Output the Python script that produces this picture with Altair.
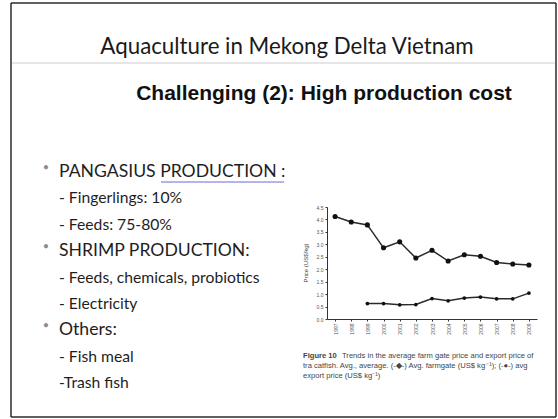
import altair as alt
import pandas as pd

# ---------------- data ----------------
years = [str(y) for y in range(1997, 2010)]
export_price = [4.12, 3.90, 3.78, 2.86, 3.10, 2.45, 2.76, 2.33, 2.58, 2.52, 2.27, 2.21, 2.17]
farmgate_price = [None, None, 0.62, 0.62, 0.57, 0.58, 0.82, 0.73, 0.84, 0.88, 0.81, 0.81, 1.04]
y_ticks = [0, 0.5, 1, 1.5, 2, 2.5, 3, 3.5, 4, 4.5]
series_names = ["Avg. export price", "Avg. farmgate price"]

title_text = "Aquaculture in Mekong Delta Vietnam"
subtitle_text = "Challenging (2): High production cost"
bullet_items = [
    ("PANGASIUS PRODUCTION :", 0),
    ("- Fingerlings: 10%", 1),
    ("- Feeds: 75-80%", 1),
    ("SHRIMP PRODUCTION:", 0),
    ("- Feeds, chemicals, probiotics", 1),
    ("- Electricity", 1),
    ("Others:", 0),
    ("- Fish meal", 1),
    ("-Trash fish", 1),
]
y_axis_title = "Price (US$/kg)"
caption_bold = "Figure 10"
caption_lines = [
    "Trends in the average farm gate price and export price of",
    "tra catfish. Avg., average. (-\u25c6-) Avg. farmgate (US$ kg\u207b\u00b9); (-\u25cf-) avg",
    "export price (US$ kg\u207b\u00b9)",
]

# ---------------- layout ----------------
TOTAL_W, TOTAL_H = 558, 419
OX, OY = 327, 207          # plot origin on the page
W, H = 210, 112            # plot area

rows = []
for name, vals in zip(series_names, [export_price, farmgate_price]):
    for yr, v in zip(years, vals):
        if v is not None:
            rows.append({"year": yr, "price": v, "series": name})
df = pd.DataFrame(rows)

one = alt.Data(values=[{"a": 1}])


def txt(text, x, y, **kw):
    return alt.Chart(one).mark_text(text=text, **kw).encode(
        x=alt.value(x - OX), y=alt.value(y - OY)
    )


def rule(x1, x2, y1, y2, **kw):
    return alt.Chart(one).mark_rule(**kw).encode(
        x=alt.value(x1 - OX), x2=alt.value(x2 - OX),
        y=alt.value(y1 - OY), y2=alt.value(y2 - OY),
    )


layers = []

# slide frame and faint title divider
frame_kw = dict(color="#2b2b2b", strokeWidth=1.5)
layers += [
    rule(11, 556, 3, 3, **frame_kw),
    rule(11, 556, 417, 417, **frame_kw),
    rule(11, 11, 3, 417, **frame_kw),
    rule(556, 556, 3, 417, **frame_kw),
    rule(12, 555, 63, 63, color="#e6e6e6", strokeWidth=2),
]

# titles
layers.append(txt(title_text, 287, 47, font="Lato", fontSize=22.3, color="#1a1a1a",
                  align="center", baseline="middle"))
layers.append(txt(subtitle_text, 324, 94, font="Liberation Sans", fontSize=21,
                  fontWeight="bold", color="#111111", align="center", baseline="middle"))

# bullet list
y0, step = 172, 26.4
for i, (t, lvl) in enumerate(bullet_items):
    yy = y0 + i * step
    if lvl == 0:
        layers.append(txt("\u2022", 46, yy - 4, font="Lato", fontSize=11, color="#8c8c8c",
                          align="center", baseline="middle"))
        layers.append(txt(t, 59, yy, font="Lato", fontSize=17.6, color="#1e1e1e",
                          align="left", baseline="middle"))
    else:
        layers.append(txt(t, 59, yy, font="Lato", fontSize=15.7, color="#1e1e1e",
                          align="left", baseline="middle"))
# underline under "PRODUCTION :"
layers.append(rule(161, 284, 182, 182, color="#6b6bd6", strokeWidth=1))

# chart
base = alt.Chart(df).encode(
    x=alt.X("year:O", sort=years, scale=alt.Scale(type="point", padding=0.5),
            axis=alt.Axis(title=None, labelAngle=270, labelFontSize=5, labelColor="#555555",
                          labelFont="Liberation Sans", tickSize=2, labelPadding=2,
                          domainColor="#333333", tickColor="#333333", grid=False)),
    y=alt.Y("price:Q", scale=alt.Scale(domain=[0, 4.5], nice=False, zero=True),
            axis=alt.Axis(title=None, values=y_ticks, labelFontSize=5, labelColor="#555555",
                          labelFont="Liberation Sans", tickSize=2, labelPadding=2,
                          domainColor="#333333", tickColor="#333333", grid=False)),
)
lines = base.mark_line(color="#2a2a2a", strokeWidth=1.5).encode(detail="series:N")
points = base.mark_point(filled=True, color="#111111", opacity=1).encode(
    size=alt.Size("series:N", scale=alt.Scale(domain=series_names, range=[26, 14]), legend=None),
    detail="series:N",
)
layers += [lines, points]

layers.append(txt(y_axis_title, 306, 263, font="Liberation Sans", fontSize=6, color="#444444",
                  angle=270, align="center", baseline="middle"))

# caption
cap_kw = dict(font="Liberation Sans", fontSize=7.6, color="#444444", align="left", baseline="middle")
layers.append(txt(caption_bold, 303, 356, fontWeight="bold", **cap_kw))
layers.append(txt(caption_lines[0], 342, 356, **cap_kw))
layers.append(txt(caption_lines[1], 303, 366, **cap_kw))
layers.append(txt(caption_lines[2], 303, 376, **cap_kw))

chart = alt.layer(*layers).properties(
    width=W, height=H,
    autosize=alt.AutoSizeParams(type="none"),
    padding={"left": OX, "top": OY, "right": TOTAL_W - OX - W, "bottom": TOTAL_H - OY - H},
    background="white",
).configure_view(stroke=None)

chart.save("out.html", embed_options={"renderer": "svg", "actions": False})
